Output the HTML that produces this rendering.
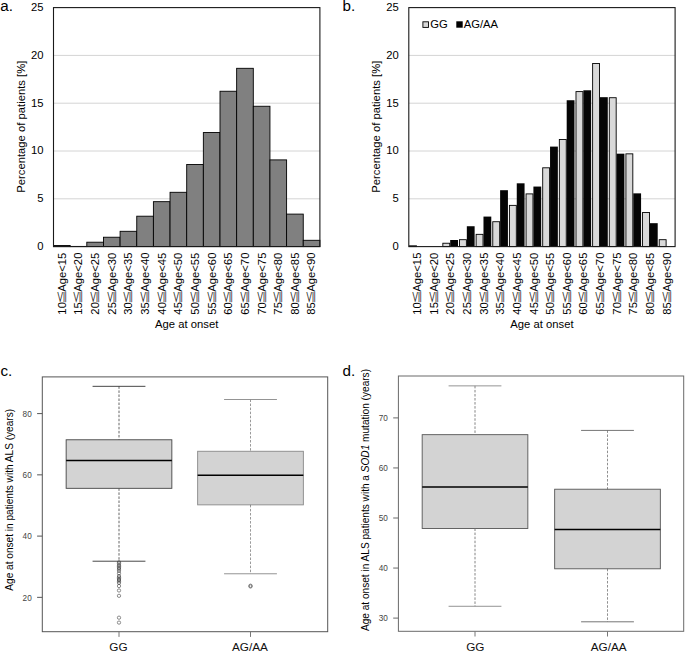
<!DOCTYPE html>
<html lang="en"><head><meta charset="utf-8"><title>Figure</title>
<style>
html,body{margin:0;padding:0;background:#fff;}
svg{display:block;font-family:"Liberation Sans", "Noto Sans CJK JP", sans-serif;}
</style></head><body>
<svg width="685" height="652" viewBox="0 0 685 652">
<rect x="0" y="0" width="685" height="652" fill="#fff"/>
<line x1="53.50" y1="198.80" x2="319.90" y2="198.80" stroke="#d4d4d4" stroke-width="1" />
<line x1="53.50" y1="151.00" x2="319.90" y2="151.00" stroke="#d4d4d4" stroke-width="1" />
<line x1="53.50" y1="103.20" x2="319.90" y2="103.20" stroke="#d4d4d4" stroke-width="1" />
<line x1="53.50" y1="55.40" x2="319.90" y2="55.40" stroke="#d4d4d4" stroke-width="1" />
<text x="43.40" y="250.00" font-size="11.25" text-anchor="end" fill="#000" >0</text>
<text x="43.40" y="202.20" font-size="11.25" text-anchor="end" fill="#000" >5</text>
<text x="43.40" y="154.40" font-size="11.25" text-anchor="end" fill="#000" >10</text>
<text x="43.40" y="106.60" font-size="11.25" text-anchor="end" fill="#000" >15</text>
<text x="43.40" y="58.80" font-size="11.25" text-anchor="end" fill="#000" >20</text>
<text x="43.40" y="11.00" font-size="11.25" text-anchor="end" fill="#000" >25</text>
<text x="24.60" y="126.70" font-size="11.25" text-anchor="middle" fill="#000" transform="rotate(-90 24.60 126.70)" >Percentage of patients [%]</text>
<text x="186.70" y="327.70" font-size="11.25" text-anchor="middle" fill="#000" >Age at onset</text>
<text x="65.73" y="252.60" font-size="11.25" text-anchor="end" fill="#000" transform="rotate(-90 65.73 252.60)" >10<tspan font-family="IPAGothic, sans-serif" font-size="11" dx="-2.3" textLength="14.8" lengthAdjust="spacingAndGlyphs" fill="#222">≦</tspan><tspan dx="-2.1">Age&lt;15</tspan></text>
<text x="82.38" y="252.60" font-size="11.25" text-anchor="end" fill="#000" transform="rotate(-90 82.38 252.60)" >15<tspan font-family="IPAGothic, sans-serif" font-size="11" dx="-2.3" textLength="14.8" lengthAdjust="spacingAndGlyphs" fill="#222">≦</tspan><tspan dx="-2.1">Age&lt;20</tspan></text>
<text x="99.03" y="252.60" font-size="11.25" text-anchor="end" fill="#000" transform="rotate(-90 99.03 252.60)" >20<tspan font-family="IPAGothic, sans-serif" font-size="11" dx="-2.3" textLength="14.8" lengthAdjust="spacingAndGlyphs" fill="#222">≦</tspan><tspan dx="-2.1">Age&lt;25</tspan></text>
<text x="115.67" y="252.60" font-size="11.25" text-anchor="end" fill="#000" transform="rotate(-90 115.67 252.60)" >25<tspan font-family="IPAGothic, sans-serif" font-size="11" dx="-2.3" textLength="14.8" lengthAdjust="spacingAndGlyphs" fill="#222">≦</tspan><tspan dx="-2.1">Age&lt;30</tspan></text>
<text x="132.33" y="252.60" font-size="11.25" text-anchor="end" fill="#000" transform="rotate(-90 132.33 252.60)" >30<tspan font-family="IPAGothic, sans-serif" font-size="11" dx="-2.3" textLength="14.8" lengthAdjust="spacingAndGlyphs" fill="#222">≦</tspan><tspan dx="-2.1">Age&lt;35</tspan></text>
<text x="148.97" y="252.60" font-size="11.25" text-anchor="end" fill="#000" transform="rotate(-90 148.97 252.60)" >35<tspan font-family="IPAGothic, sans-serif" font-size="11" dx="-2.3" textLength="14.8" lengthAdjust="spacingAndGlyphs" fill="#222">≦</tspan><tspan dx="-2.1">Age&lt;40</tspan></text>
<text x="165.62" y="252.60" font-size="11.25" text-anchor="end" fill="#000" transform="rotate(-90 165.62 252.60)" >40<tspan font-family="IPAGothic, sans-serif" font-size="11" dx="-2.3" textLength="14.8" lengthAdjust="spacingAndGlyphs" fill="#222">≦</tspan><tspan dx="-2.1">Age&lt;45</tspan></text>
<text x="182.28" y="252.60" font-size="11.25" text-anchor="end" fill="#000" transform="rotate(-90 182.28 252.60)" >45<tspan font-family="IPAGothic, sans-serif" font-size="11" dx="-2.3" textLength="14.8" lengthAdjust="spacingAndGlyphs" fill="#222">≦</tspan><tspan dx="-2.1">Age&lt;50</tspan></text>
<text x="198.92" y="252.60" font-size="11.25" text-anchor="end" fill="#000" transform="rotate(-90 198.92 252.60)" >50<tspan font-family="IPAGothic, sans-serif" font-size="11" dx="-2.3" textLength="14.8" lengthAdjust="spacingAndGlyphs" fill="#222">≦</tspan><tspan dx="-2.1">Age&lt;55</tspan></text>
<text x="215.57" y="252.60" font-size="11.25" text-anchor="end" fill="#000" transform="rotate(-90 215.57 252.60)" >55<tspan font-family="IPAGothic, sans-serif" font-size="11" dx="-2.3" textLength="14.8" lengthAdjust="spacingAndGlyphs" fill="#222">≦</tspan><tspan dx="-2.1">Age&lt;60</tspan></text>
<text x="232.22" y="252.60" font-size="11.25" text-anchor="end" fill="#000" transform="rotate(-90 232.22 252.60)" >60<tspan font-family="IPAGothic, sans-serif" font-size="11" dx="-2.3" textLength="14.8" lengthAdjust="spacingAndGlyphs" fill="#222">≦</tspan><tspan dx="-2.1">Age&lt;65</tspan></text>
<text x="248.88" y="252.60" font-size="11.25" text-anchor="end" fill="#000" transform="rotate(-90 248.88 252.60)" >65<tspan font-family="IPAGothic, sans-serif" font-size="11" dx="-2.3" textLength="14.8" lengthAdjust="spacingAndGlyphs" fill="#222">≦</tspan><tspan dx="-2.1">Age&lt;70</tspan></text>
<text x="265.52" y="252.60" font-size="11.25" text-anchor="end" fill="#000" transform="rotate(-90 265.52 252.60)" >70<tspan font-family="IPAGothic, sans-serif" font-size="11" dx="-2.3" textLength="14.8" lengthAdjust="spacingAndGlyphs" fill="#222">≦</tspan><tspan dx="-2.1">Age&lt;75</tspan></text>
<text x="282.17" y="252.60" font-size="11.25" text-anchor="end" fill="#000" transform="rotate(-90 282.17 252.60)" >75<tspan font-family="IPAGothic, sans-serif" font-size="11" dx="-2.3" textLength="14.8" lengthAdjust="spacingAndGlyphs" fill="#222">≦</tspan><tspan dx="-2.1">Age&lt;80</tspan></text>
<text x="298.82" y="252.60" font-size="11.25" text-anchor="end" fill="#000" transform="rotate(-90 298.82 252.60)" >80<tspan font-family="IPAGothic, sans-serif" font-size="11" dx="-2.3" textLength="14.8" lengthAdjust="spacingAndGlyphs" fill="#222">≦</tspan><tspan dx="-2.1">Age&lt;85</tspan></text>
<text x="315.47" y="252.60" font-size="11.25" text-anchor="end" fill="#000" transform="rotate(-90 315.47 252.60)" >85<tspan font-family="IPAGothic, sans-serif" font-size="11" dx="-2.3" textLength="14.8" lengthAdjust="spacingAndGlyphs" fill="#222">≦</tspan><tspan dx="-2.1">Age&lt;90</tspan></text>
<text x="0.20" y="11.30" font-size="15.2" text-anchor="start" fill="#000" >a.</text>
<rect x="53.50" y="245.45" width="16.65" height="1.15" fill="#808080" stroke="#000" stroke-width="0.9"/>
<rect x="70.15" y="246.41" width="16.65" height="0.19" fill="#808080" stroke="#000" stroke-width="0.9"/>
<rect x="86.80" y="242.20" width="16.65" height="4.40" fill="#808080" stroke="#000" stroke-width="0.9"/>
<rect x="103.45" y="237.23" width="16.65" height="9.37" fill="#808080" stroke="#000" stroke-width="0.9"/>
<rect x="120.10" y="231.30" width="16.65" height="15.30" fill="#808080" stroke="#000" stroke-width="0.9"/>
<rect x="136.75" y="216.20" width="16.65" height="30.40" fill="#808080" stroke="#000" stroke-width="0.9"/>
<rect x="153.40" y="201.67" width="16.65" height="44.93" fill="#808080" stroke="#000" stroke-width="0.9"/>
<rect x="170.05" y="192.30" width="16.65" height="54.30" fill="#808080" stroke="#000" stroke-width="0.9"/>
<rect x="186.70" y="164.48" width="16.65" height="82.12" fill="#808080" stroke="#000" stroke-width="0.9"/>
<rect x="203.35" y="132.55" width="16.65" height="114.05" fill="#808080" stroke="#000" stroke-width="0.9"/>
<rect x="220.00" y="91.25" width="16.65" height="155.35" fill="#808080" stroke="#000" stroke-width="0.9"/>
<rect x="236.65" y="68.31" width="16.65" height="178.29" fill="#808080" stroke="#000" stroke-width="0.9"/>
<rect x="253.30" y="106.26" width="16.65" height="140.34" fill="#808080" stroke="#000" stroke-width="0.9"/>
<rect x="269.95" y="159.89" width="16.65" height="86.71" fill="#808080" stroke="#000" stroke-width="0.9"/>
<rect x="286.60" y="214.10" width="16.65" height="32.50" fill="#808080" stroke="#000" stroke-width="0.9"/>
<rect x="303.25" y="240.29" width="16.65" height="6.31" fill="#808080" stroke="#000" stroke-width="0.9"/>
<rect x="53.50" y="7.60" width="266.40" height="239.00" fill="none" stroke="#1a1a1a" stroke-width="1.1"/>
<line x1="408.80" y1="198.80" x2="675.10" y2="198.80" stroke="#d4d4d4" stroke-width="1" />
<line x1="408.80" y1="151.00" x2="675.10" y2="151.00" stroke="#d4d4d4" stroke-width="1" />
<line x1="408.80" y1="103.20" x2="675.10" y2="103.20" stroke="#d4d4d4" stroke-width="1" />
<line x1="408.80" y1="55.40" x2="675.10" y2="55.40" stroke="#d4d4d4" stroke-width="1" />
<text x="398.70" y="250.00" font-size="11.25" text-anchor="end" fill="#000" >0</text>
<text x="398.70" y="202.20" font-size="11.25" text-anchor="end" fill="#000" >5</text>
<text x="398.70" y="154.40" font-size="11.25" text-anchor="end" fill="#000" >10</text>
<text x="398.70" y="106.60" font-size="11.25" text-anchor="end" fill="#000" >15</text>
<text x="398.70" y="58.80" font-size="11.25" text-anchor="end" fill="#000" >20</text>
<text x="398.70" y="11.00" font-size="11.25" text-anchor="end" fill="#000" >25</text>
<text x="379.90" y="126.70" font-size="11.25" text-anchor="middle" fill="#000" transform="rotate(-90 379.90 126.70)" >Percentage of patients [%]</text>
<text x="541.95" y="327.70" font-size="11.25" text-anchor="middle" fill="#000" >Age at onset</text>
<text x="421.02" y="252.60" font-size="11.25" text-anchor="end" fill="#000" transform="rotate(-90 421.02 252.60)" >10<tspan font-family="IPAGothic, sans-serif" font-size="11" dx="-2.3" textLength="14.8" lengthAdjust="spacingAndGlyphs" fill="#222">≦</tspan><tspan dx="-2.1">Age&lt;15</tspan></text>
<text x="437.67" y="252.60" font-size="11.25" text-anchor="end" fill="#000" transform="rotate(-90 437.67 252.60)" >15<tspan font-family="IPAGothic, sans-serif" font-size="11" dx="-2.3" textLength="14.8" lengthAdjust="spacingAndGlyphs" fill="#222">≦</tspan><tspan dx="-2.1">Age&lt;20</tspan></text>
<text x="454.31" y="252.60" font-size="11.25" text-anchor="end" fill="#000" transform="rotate(-90 454.31 252.60)" >20<tspan font-family="IPAGothic, sans-serif" font-size="11" dx="-2.3" textLength="14.8" lengthAdjust="spacingAndGlyphs" fill="#222">≦</tspan><tspan dx="-2.1">Age&lt;25</tspan></text>
<text x="470.95" y="252.60" font-size="11.25" text-anchor="end" fill="#000" transform="rotate(-90 470.95 252.60)" >25<tspan font-family="IPAGothic, sans-serif" font-size="11" dx="-2.3" textLength="14.8" lengthAdjust="spacingAndGlyphs" fill="#222">≦</tspan><tspan dx="-2.1">Age&lt;30</tspan></text>
<text x="487.60" y="252.60" font-size="11.25" text-anchor="end" fill="#000" transform="rotate(-90 487.60 252.60)" >30<tspan font-family="IPAGothic, sans-serif" font-size="11" dx="-2.3" textLength="14.8" lengthAdjust="spacingAndGlyphs" fill="#222">≦</tspan><tspan dx="-2.1">Age&lt;35</tspan></text>
<text x="504.24" y="252.60" font-size="11.25" text-anchor="end" fill="#000" transform="rotate(-90 504.24 252.60)" >35<tspan font-family="IPAGothic, sans-serif" font-size="11" dx="-2.3" textLength="14.8" lengthAdjust="spacingAndGlyphs" fill="#222">≦</tspan><tspan dx="-2.1">Age&lt;40</tspan></text>
<text x="520.88" y="252.60" font-size="11.25" text-anchor="end" fill="#000" transform="rotate(-90 520.88 252.60)" >40<tspan font-family="IPAGothic, sans-serif" font-size="11" dx="-2.3" textLength="14.8" lengthAdjust="spacingAndGlyphs" fill="#222">≦</tspan><tspan dx="-2.1">Age&lt;45</tspan></text>
<text x="537.53" y="252.60" font-size="11.25" text-anchor="end" fill="#000" transform="rotate(-90 537.53 252.60)" >45<tspan font-family="IPAGothic, sans-serif" font-size="11" dx="-2.3" textLength="14.8" lengthAdjust="spacingAndGlyphs" fill="#222">≦</tspan><tspan dx="-2.1">Age&lt;50</tspan></text>
<text x="554.17" y="252.60" font-size="11.25" text-anchor="end" fill="#000" transform="rotate(-90 554.17 252.60)" >50<tspan font-family="IPAGothic, sans-serif" font-size="11" dx="-2.3" textLength="14.8" lengthAdjust="spacingAndGlyphs" fill="#222">≦</tspan><tspan dx="-2.1">Age&lt;55</tspan></text>
<text x="570.82" y="252.60" font-size="11.25" text-anchor="end" fill="#000" transform="rotate(-90 570.82 252.60)" >55<tspan font-family="IPAGothic, sans-serif" font-size="11" dx="-2.3" textLength="14.8" lengthAdjust="spacingAndGlyphs" fill="#222">≦</tspan><tspan dx="-2.1">Age&lt;60</tspan></text>
<text x="587.46" y="252.60" font-size="11.25" text-anchor="end" fill="#000" transform="rotate(-90 587.46 252.60)" >60<tspan font-family="IPAGothic, sans-serif" font-size="11" dx="-2.3" textLength="14.8" lengthAdjust="spacingAndGlyphs" fill="#222">≦</tspan><tspan dx="-2.1">Age&lt;65</tspan></text>
<text x="604.10" y="252.60" font-size="11.25" text-anchor="end" fill="#000" transform="rotate(-90 604.10 252.60)" >65<tspan font-family="IPAGothic, sans-serif" font-size="11" dx="-2.3" textLength="14.8" lengthAdjust="spacingAndGlyphs" fill="#222">≦</tspan><tspan dx="-2.1">Age&lt;70</tspan></text>
<text x="620.75" y="252.60" font-size="11.25" text-anchor="end" fill="#000" transform="rotate(-90 620.75 252.60)" >70<tspan font-family="IPAGothic, sans-serif" font-size="11" dx="-2.3" textLength="14.8" lengthAdjust="spacingAndGlyphs" fill="#222">≦</tspan><tspan dx="-2.1">Age&lt;75</tspan></text>
<text x="637.39" y="252.60" font-size="11.25" text-anchor="end" fill="#000" transform="rotate(-90 637.39 252.60)" >75<tspan font-family="IPAGothic, sans-serif" font-size="11" dx="-2.3" textLength="14.8" lengthAdjust="spacingAndGlyphs" fill="#222">≦</tspan><tspan dx="-2.1">Age&lt;80</tspan></text>
<text x="654.03" y="252.60" font-size="11.25" text-anchor="end" fill="#000" transform="rotate(-90 654.03 252.60)" >80<tspan font-family="IPAGothic, sans-serif" font-size="11" dx="-2.3" textLength="14.8" lengthAdjust="spacingAndGlyphs" fill="#222">≦</tspan><tspan dx="-2.1">Age&lt;85</tspan></text>
<text x="670.68" y="252.60" font-size="11.25" text-anchor="end" fill="#000" transform="rotate(-90 670.68 252.60)" >85<tspan font-family="IPAGothic, sans-serif" font-size="11" dx="-2.3" textLength="14.8" lengthAdjust="spacingAndGlyphs" fill="#222">≦</tspan><tspan dx="-2.1">Age&lt;90</tspan></text>
<text x="342.60" y="11.30" font-size="15.2" text-anchor="start" fill="#000" >b.</text>
<rect x="409.55" y="245.81" width="6.90" height="0.79" fill="#d9d9d9" stroke="#000" stroke-width="0.9"/>
<rect x="442.84" y="243.23" width="6.90" height="3.37" fill="#d9d9d9" stroke="#000" stroke-width="0.9"/>
<rect x="450.19" y="240.00" width="7.80" height="6.60" fill="#050505" stroke="none" stroke-width="1"/>
<rect x="459.48" y="239.69" width="6.90" height="6.91" fill="#d9d9d9" stroke="#000" stroke-width="0.9"/>
<rect x="466.83" y="226.24" width="7.80" height="20.36" fill="#050505" stroke="none" stroke-width="1"/>
<rect x="476.12" y="234.34" width="6.90" height="12.26" fill="#d9d9d9" stroke="#000" stroke-width="0.9"/>
<rect x="483.48" y="216.58" width="7.80" height="30.02" fill="#050505" stroke="none" stroke-width="1"/>
<rect x="492.77" y="221.72" width="6.90" height="24.88" fill="#d9d9d9" stroke="#000" stroke-width="0.9"/>
<rect x="500.12" y="190.20" width="7.80" height="56.40" fill="#050505" stroke="none" stroke-width="1"/>
<rect x="509.41" y="205.37" width="6.90" height="41.23" fill="#d9d9d9" stroke="#000" stroke-width="0.9"/>
<rect x="516.76" y="183.31" width="7.80" height="63.29" fill="#050505" stroke="none" stroke-width="1"/>
<rect x="526.06" y="193.90" width="6.90" height="52.70" fill="#d9d9d9" stroke="#000" stroke-width="0.9"/>
<rect x="533.41" y="186.56" width="7.80" height="60.04" fill="#050505" stroke="none" stroke-width="1"/>
<rect x="542.70" y="167.80" width="6.90" height="78.80" fill="#d9d9d9" stroke="#000" stroke-width="0.9"/>
<rect x="550.05" y="146.60" width="7.80" height="100.00" fill="#050505" stroke="none" stroke-width="1"/>
<rect x="559.34" y="139.50" width="6.90" height="107.10" fill="#d9d9d9" stroke="#000" stroke-width="0.9"/>
<rect x="566.69" y="100.24" width="7.80" height="146.36" fill="#050505" stroke="none" stroke-width="1"/>
<rect x="575.99" y="91.60" width="6.90" height="155.00" fill="#d9d9d9" stroke="#000" stroke-width="0.9"/>
<rect x="583.34" y="90.29" width="7.80" height="156.31" fill="#050505" stroke="none" stroke-width="1"/>
<rect x="592.63" y="63.50" width="6.90" height="183.10" fill="#d9d9d9" stroke="#000" stroke-width="0.9"/>
<rect x="599.98" y="97.18" width="7.80" height="149.42" fill="#050505" stroke="none" stroke-width="1"/>
<rect x="609.28" y="97.72" width="6.90" height="148.88" fill="#d9d9d9" stroke="#000" stroke-width="0.9"/>
<rect x="616.62" y="153.68" width="7.80" height="92.92" fill="#050505" stroke="none" stroke-width="1"/>
<rect x="625.92" y="153.84" width="6.90" height="92.76" fill="#d9d9d9" stroke="#000" stroke-width="0.9"/>
<rect x="633.27" y="193.35" width="7.80" height="53.25" fill="#050505" stroke="none" stroke-width="1"/>
<rect x="642.56" y="212.54" width="6.90" height="34.06" fill="#d9d9d9" stroke="#000" stroke-width="0.9"/>
<rect x="649.91" y="223.18" width="7.80" height="23.42" fill="#050505" stroke="none" stroke-width="1"/>
<rect x="659.21" y="239.69" width="6.90" height="6.91" fill="#d9d9d9" stroke="#000" stroke-width="0.9"/>
<rect x="408.80" y="7.60" width="266.30" height="239.00" fill="none" stroke="#1a1a1a" stroke-width="1.1"/>
<rect x="422.90" y="21.80" width="5.60" height="5.60" fill="#d9d9d9" stroke="#000" stroke-width="0.9"/>
<text x="430.30" y="28.40" font-size="11.25" text-anchor="start" fill="#000" >GG</text>
<rect x="456.30" y="21.30" width="6.40" height="6.40" fill="#000" stroke="none" stroke-width="1"/>
<text x="463.70" y="28.40" font-size="11.25" text-anchor="start" fill="#000" >AG/AA</text>
<rect x="42.30" y="376.90" width="285.40" height="254.80" fill="none" stroke="#555" stroke-width="1"/>
<line x1="37.10" y1="597.35" x2="42.30" y2="597.35" stroke="#555" stroke-width="1" />
<text x="31.70" y="600.65" font-size="9.3" text-anchor="end" fill="#444" textLength="9.1" lengthAdjust="spacingAndGlyphs">20</text>
<line x1="37.10" y1="536.10" x2="42.30" y2="536.10" stroke="#555" stroke-width="1" />
<text x="31.70" y="539.40" font-size="9.3" text-anchor="end" fill="#444" textLength="9.1" lengthAdjust="spacingAndGlyphs">40</text>
<line x1="37.10" y1="474.85" x2="42.30" y2="474.85" stroke="#555" stroke-width="1" />
<text x="31.70" y="478.15" font-size="9.3" text-anchor="end" fill="#444" textLength="9.1" lengthAdjust="spacingAndGlyphs">60</text>
<line x1="37.10" y1="413.60" x2="42.30" y2="413.60" stroke="#555" stroke-width="1" />
<text x="31.70" y="416.90" font-size="9.3" text-anchor="end" fill="#444" textLength="9.1" lengthAdjust="spacingAndGlyphs">80</text>
<rect x="66.15" y="439.78" width="105.70" height="48.54" fill="#d3d3d3" stroke="#444" stroke-width="0.9"/>
<line x1="119.00" y1="386.34" x2="119.00" y2="439.78" stroke="#555" stroke-width="0.9" stroke-dasharray="2.5 1.55"/>
<line x1="119.00" y1="488.33" x2="119.00" y2="561.21" stroke="#555" stroke-width="0.9" stroke-dasharray="2.5 1.55"/>
<line x1="92.57" y1="386.34" x2="145.43" y2="386.34" stroke="#333" stroke-width="0.9" />
<line x1="92.57" y1="561.21" x2="145.43" y2="561.21" stroke="#333" stroke-width="0.9" />
<line x1="66.15" y1="460.46" x2="171.85" y2="460.46" stroke="#000" stroke-width="1.4" />
<line x1="119.00" y1="631.70" x2="119.00" y2="636.90" stroke="#777" stroke-width="1" />
<text x="118.50" y="650.60" font-size="11.75" text-anchor="middle" fill="#111" >GG</text>
<circle cx="119.00" cy="562.28" r="1.65" fill="none" stroke="#333" stroke-width="0.55"/>
<circle cx="119.00" cy="563.51" r="1.65" fill="none" stroke="#333" stroke-width="0.55"/>
<circle cx="119.00" cy="565.29" r="1.65" fill="none" stroke="#333" stroke-width="0.55"/>
<circle cx="119.00" cy="566.42" r="1.65" fill="none" stroke="#333" stroke-width="0.55"/>
<circle cx="119.00" cy="567.80" r="1.65" fill="none" stroke="#333" stroke-width="0.55"/>
<circle cx="119.00" cy="569.17" r="1.65" fill="none" stroke="#333" stroke-width="0.55"/>
<circle cx="119.00" cy="570.89" r="1.65" fill="none" stroke="#333" stroke-width="0.55"/>
<circle cx="119.00" cy="573.31" r="1.65" fill="none" stroke="#333" stroke-width="0.55"/>
<circle cx="119.00" cy="576.00" r="1.65" fill="none" stroke="#333" stroke-width="0.55"/>
<circle cx="119.00" cy="577.44" r="1.65" fill="none" stroke="#333" stroke-width="0.55"/>
<circle cx="119.00" cy="578.79" r="1.65" fill="none" stroke="#333" stroke-width="0.55"/>
<circle cx="119.00" cy="579.99" r="1.65" fill="none" stroke="#333" stroke-width="0.55"/>
<circle cx="119.00" cy="581.30" r="1.65" fill="none" stroke="#333" stroke-width="0.55"/>
<circle cx="119.00" cy="582.89" r="1.65" fill="none" stroke="#333" stroke-width="0.55"/>
<circle cx="119.00" cy="586.02" r="1.65" fill="none" stroke="#333" stroke-width="0.55"/>
<circle cx="119.00" cy="590.49" r="1.65" fill="none" stroke="#333" stroke-width="0.55"/>
<circle cx="119.00" cy="595.82" r="1.65" fill="none" stroke="#333" stroke-width="0.55"/>
<circle cx="119.00" cy="617.69" r="1.65" fill="none" stroke="#333" stroke-width="0.55"/>
<circle cx="119.00" cy="622.59" r="1.65" fill="none" stroke="#333" stroke-width="0.55"/>
<rect x="197.65" y="451.27" width="105.70" height="53.59" fill="#d3d3d3" stroke="#888" stroke-width="0.9"/>
<line x1="250.50" y1="399.51" x2="250.50" y2="451.27" stroke="#555" stroke-width="0.6" stroke-dasharray="2.5 1.55"/>
<line x1="250.50" y1="504.86" x2="250.50" y2="573.77" stroke="#555" stroke-width="0.6" stroke-dasharray="2.5 1.55"/>
<line x1="224.07" y1="399.51" x2="276.93" y2="399.51" stroke="#888" stroke-width="0.9" />
<line x1="224.07" y1="573.77" x2="276.93" y2="573.77" stroke="#888" stroke-width="0.9" />
<line x1="197.65" y1="475.31" x2="303.35" y2="475.31" stroke="#000" stroke-width="1.4" />
<line x1="250.50" y1="631.70" x2="250.50" y2="636.90" stroke="#777" stroke-width="1" />
<text x="250.00" y="650.60" font-size="11.75" text-anchor="middle" fill="#111" >AG/AA</text>
<circle cx="250.50" cy="585.71" r="1.65" fill="none" stroke="#333" stroke-width="0.55"/>
<circle cx="250.50" cy="586.48" r="1.65" fill="none" stroke="#333" stroke-width="0.55"/>
<text x="12.60" y="499.80" font-size="10.1" text-anchor="middle" fill="#000" transform="rotate(-90 12.60 499.80)" >Age at onset in patients with ALS (years)</text>
<text x="0.40" y="375.50" font-size="15.2" text-anchor="start" fill="#000" >c.</text>
<rect x="398.40" y="376.00" width="285.30" height="255.30" fill="none" stroke="#6a6a6a" stroke-width="1"/>
<line x1="393.20" y1="618.10" x2="398.40" y2="618.10" stroke="#6a6a6a" stroke-width="1" />
<text x="387.80" y="621.40" font-size="9.3" text-anchor="end" fill="#444" textLength="9.1" lengthAdjust="spacingAndGlyphs">30</text>
<line x1="393.20" y1="568.05" x2="398.40" y2="568.05" stroke="#6a6a6a" stroke-width="1" />
<text x="387.80" y="571.35" font-size="9.3" text-anchor="end" fill="#444" textLength="9.1" lengthAdjust="spacingAndGlyphs">40</text>
<line x1="393.20" y1="518.00" x2="398.40" y2="518.00" stroke="#6a6a6a" stroke-width="1" />
<text x="387.80" y="521.30" font-size="9.3" text-anchor="end" fill="#444" textLength="9.1" lengthAdjust="spacingAndGlyphs">50</text>
<line x1="393.20" y1="467.95" x2="398.40" y2="467.95" stroke="#6a6a6a" stroke-width="1" />
<text x="387.80" y="471.25" font-size="9.3" text-anchor="end" fill="#444" textLength="9.1" lengthAdjust="spacingAndGlyphs">60</text>
<line x1="393.20" y1="417.90" x2="398.40" y2="417.90" stroke="#6a6a6a" stroke-width="1" />
<text x="387.80" y="421.20" font-size="9.3" text-anchor="end" fill="#444" textLength="9.1" lengthAdjust="spacingAndGlyphs">70</text>
<rect x="422.17" y="434.67" width="105.67" height="93.84" fill="#d3d3d3" stroke="#555" stroke-width="0.9"/>
<line x1="475.00" y1="385.87" x2="475.00" y2="434.67" stroke="#777" stroke-width="0.9" stroke-dasharray="2.5 1.55"/>
<line x1="475.00" y1="528.51" x2="475.00" y2="606.29" stroke="#777" stroke-width="0.9" stroke-dasharray="2.5 1.55"/>
<line x1="448.58" y1="385.87" x2="501.42" y2="385.87" stroke="#888" stroke-width="0.9" />
<line x1="448.58" y1="606.29" x2="501.42" y2="606.29" stroke="#888" stroke-width="0.9" />
<line x1="422.17" y1="486.97" x2="527.83" y2="486.97" stroke="#000" stroke-width="1.4" />
<line x1="475.00" y1="631.30" x2="475.00" y2="636.50" stroke="#777" stroke-width="1" />
<text x="475.30" y="650.60" font-size="11.75" text-anchor="middle" fill="#111" >GG</text>
<rect x="554.67" y="489.22" width="105.67" height="79.58" fill="#d3d3d3" stroke="#555" stroke-width="0.9"/>
<line x1="607.50" y1="430.41" x2="607.50" y2="489.22" stroke="#444" stroke-width="0.6" stroke-dasharray="2.5 1.55"/>
<line x1="607.50" y1="568.80" x2="607.50" y2="621.80" stroke="#444" stroke-width="0.6" stroke-dasharray="2.5 1.55"/>
<line x1="581.08" y1="430.41" x2="633.92" y2="430.41" stroke="#666" stroke-width="0.9" />
<line x1="581.08" y1="621.80" x2="633.92" y2="621.80" stroke="#666" stroke-width="0.9" />
<line x1="554.67" y1="529.51" x2="660.33" y2="529.51" stroke="#000" stroke-width="1.4" />
<line x1="607.50" y1="631.30" x2="607.50" y2="636.50" stroke="#777" stroke-width="1" />
<text x="608.70" y="650.60" font-size="11.75" text-anchor="middle" fill="#111" >AG/AA</text>
<text x="369.20" y="500.00" font-size="10.1" text-anchor="middle" fill="#000" transform="rotate(-90 369.20 500.00)" >Age at onset in ALS patients with a <tspan font-style="italic">SOD1</tspan> mutation (years)</text>
<text x="342.60" y="375.50" font-size="15.2" text-anchor="start" fill="#000" >d.</text>
</svg>
</body></html>
